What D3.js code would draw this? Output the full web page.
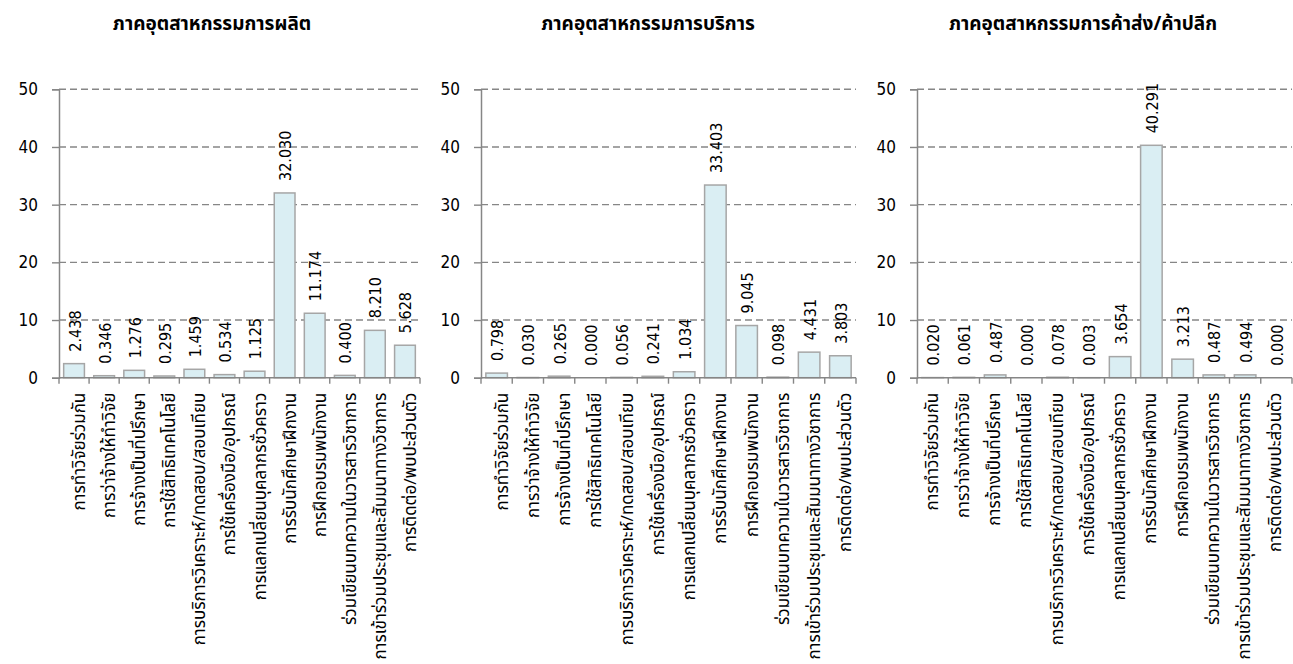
<!DOCTYPE html>
<html>
<head>
<meta charset="utf-8">
<script src="https://cdn.jsdelivr.net/npm/d3@7"></script>
<style>
  html, body { margin: 0; padding: 0; background: #fff; }
  svg { display: block; }
  .num { font-family: "DejaVu Sans Condensed", "DejaVu Sans", sans-serif; font-stretch: condensed; }
  .thai { font-family: Tahoma, "Noto Sans Thai", "Noto Sans", sans-serif; }
</style>
</head>
<body>
<svg id="chart" width="1293" height="664"></svg>
<script>
// Collaboration channels (shared by all three panels)
const categories = [
  "การทำวิจัยร่วมกัน",
  "การว่าจ้างให้ทำวิจัย",
  "การจ้างเป็นที่ปรึกษา",
  "การใช้สิทธิเทคโนโลยี",
  "การบริการวิเคราะห์/ทดสอบ/สอบเทียบ",
  "การใช้เครื่องมือ/อุปกรณ์",
  "การแลกเปลี่ยนบุคลากรชั่วคราว",
  "การรับนักศึกษาฝึกงาน",
  "การฝึกอบรมพนักงาน",
  "ร่วมเขียนบทความในวารสารวิชาการ",
  "การเข้าร่วมประชุมและสัมมนาทางวิชาการ",
  "การติดต่อ/พบปะส่วนตัว"
];

const panelTitles = [
  "ภาคอุตสาหกรรมการผลิต",
  "ภาคอุตสาหกรรมการบริการ",
  "ภาคอุตสาหกรรมการค้าส่ง/ค้าปลีก"
];

const manufacturingValues = [2.438, 0.346, 1.276, 0.295, 1.459, 0.534, 1.125, 32.030, 11.174, 0.400, 8.210, 5.628];
const servicesValues      = [0.798, 0.030, 0.265, 0.000, 0.056, 0.241, 1.034, 33.403, 9.045, 0.098, 4.431, 3.803];
const wholesaleValues     = [0.020, 0.061, 0.487, 0.000, 0.078, 0.003, 3.654, 40.291, 3.213, 0.487, 0.494, 0.000];

const yTicks = [0, 10, 20, 30, 40, 50];
const yMax = 50;

// Panel geometry
const panels = [
  { title: panelTitles[0], values: manufacturingValues, x0: 59,  x1: 420,  titleX: 212,  catShift: 11 },
  { title: panelTitles[1], values: servicesValues,      x0: 481, x1: 856,  titleX: 648,  catShift: 11 },
  { title: panelTitles[2], values: wholesaleValues,     x0: 917, x1: 1292, titleX: 1083, catShift: 5 }
];
const plotTop = 89.3, plotBottom = 377.7;

const svg = d3.select("#chart");
const axisColor = "#868686";

panels.forEach(p => {
  const g = svg.append("g");

  const x = d3.scaleBand()
    .domain(categories)
    .range([p.x0, p.x1])
    .paddingInner(0.31)
    .paddingOuter(0.155);

  const y = d3.scaleLinear().domain([0, yMax]).range([plotBottom, plotTop]);

  // Title
  g.append("text")
    .attr("class", "thai")
    .attr("x", p.titleX)
    .attr("y", 30)
    .attr("text-anchor", "middle")
    .attr("font-size", 19)
    .attr("font-weight", "bold")
    .attr("fill", "#000")
    .text(p.title);

  // Dashed gridlines
  g.selectAll("line.grid")
    .data(yTicks.filter(t => t > 0))
    .enter().append("line")
    .attr("class", "grid")
    .attr("x1", p.x0).attr("x2", p.x1)
    .attr("y1", d => y(d)).attr("y2", d => y(d))
    .attr("stroke", axisColor)
    .attr("stroke-width", 1.4)
    .attr("stroke-dasharray", "7,4");

  // Y axis
  const yAxis = d3.axisLeft(y).tickValues(yTicks).tickSize(7).tickPadding(14).tickFormat(d3.format("d"));
  const ya = g.append("g").attr("transform", `translate(${p.x0},0)`).call(yAxis);
  ya.select(".domain").attr("stroke", axisColor).attr("stroke-width", 1.5);
  ya.selectAll(".tick line").attr("stroke", axisColor).attr("stroke-width", 1.4);
  ya.selectAll(".tick text")
    .attr("class", "num")
    .attr("font-size", 17)
    .attr("fill", "#000");

  // Bars
  g.selectAll("rect.bar")
    .data(p.values)
    .enter().append("rect")
    .attr("class", "bar")
    .attr("x", (d, i) => x(categories[i]))
    .attr("width", x.bandwidth())
    .attr("y", d => y(d))
    .attr("height", d => plotBottom - y(d))
    .attr("fill", "#daeef3")
    .attr("stroke", "#a6a6a6")
    .attr("stroke-width", 1.5);

  // Value labels
  g.selectAll("text.val")
    .data(p.values)
    .enter().append("text")
    .attr("class", "num")
    .attr("font-size", 16)
    .attr("fill", "#000")
    .attr("transform", (d, i) => {
      const cx = x(categories[i]) + x.bandwidth() / 2;
      return `translate(${cx + 6.5},${y(d) - 12}) rotate(-90)`;
    })
    .text(d => d3.format(".3f")(d));

  // X axis baseline with ticks at band boundaries
  g.append("line")
    .attr("x1", p.x0).attr("x2", p.x1)
    .attr("y1", plotBottom).attr("y2", plotBottom)
    .attr("stroke", axisColor).attr("stroke-width", 1.5);

  const bounds = d3.range(categories.length + 1).map(i => p.x0 + i * (p.x1 - p.x0) / categories.length);
  g.selectAll("line.xtick")
    .data(bounds)
    .enter().append("line")
    .attr("x1", d => d).attr("x2", d => d)
    .attr("y1", plotBottom).attr("y2", plotBottom + 6)
    .attr("stroke", axisColor).attr("stroke-width", 1.4);

  // Category labels, rotated
  g.selectAll("text.cat")
    .data(categories)
    .enter().append("text")
    .attr("class", "thai")
    .attr("font-size", 17)
    .attr("fill", "#000")
    .attr("text-anchor", "end")
    .attr("transform", d => `translate(${x(d) + x.bandwidth() / 2 + p.catShift},${plotBottom + 15}) rotate(-90)`)
    .text(d => d);
});
</script>
</body>
</html>
